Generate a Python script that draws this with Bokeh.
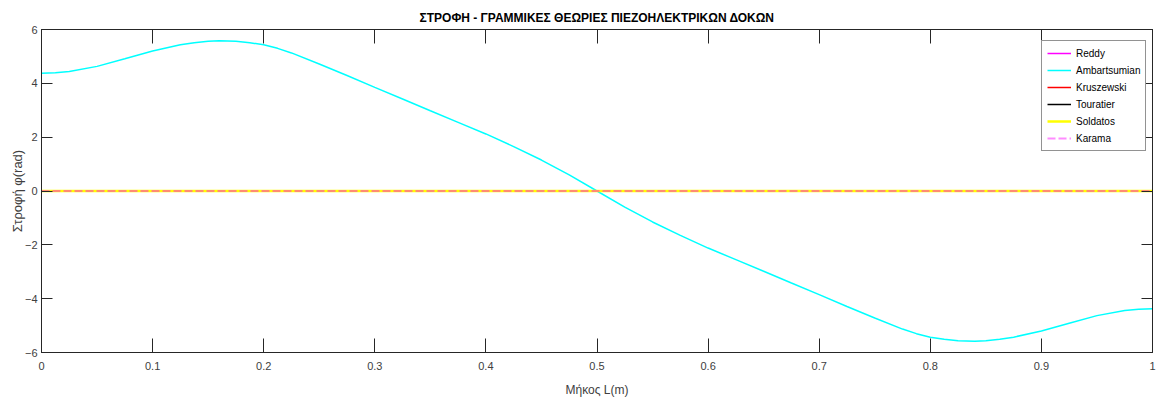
from bokeh.plotting import figure
from bokeh.models import LinearAxis, FixedTicker, Legend, LegendItem, Range1d
from bokeh.embed import file_html
from bokeh.resources import INLINE

# ---------------- data ----------------
x_amb = [0.0, 0.0125, 0.025, 0.05, 0.075, 0.1, 0.125, 0.1375, 0.15, 0.16, 0.175, 0.1875, 0.2,
         0.2125, 0.225, 0.25, 0.275, 0.3, 0.325, 0.35, 0.375, 0.4, 0.425, 0.45, 0.475, 0.5,
         0.525, 0.55, 0.575, 0.6, 0.625, 0.65, 0.675, 0.7, 0.725, 0.75, 0.775, 0.7875, 0.8,
         0.8125, 0.825, 0.84, 0.85, 0.8625, 0.875, 0.9, 0.925, 0.95, 0.975, 0.9875, 1.0]
ambartsumian = [4.37, 4.39, 4.44, 4.63, 4.91, 5.20, 5.43, 5.51, 5.56, 5.58, 5.56, 5.51, 5.43,
                5.30, 5.13, 4.72, 4.29, 3.85, 3.42, 2.98, 2.55, 2.12, 1.65, 1.15, 0.60, 0.00,
                -0.60, -1.15, -1.65, -2.12, -2.55, -2.98, -3.42, -3.85, -4.29, -4.72, -5.13, -5.30, -5.43,
                -5.51, -5.56, -5.58, -5.56, -5.51, -5.43, -5.20, -4.91, -4.63, -4.44, -4.39, -4.37]

x_other = [0.0, 0.1, 0.2, 0.3, 0.4, 0.5, 0.6, 0.7, 0.8, 0.9, 1.0]
reddy = [0.0, 0.0, 0.0, 0.0, 0.0, 0.0, 0.0, 0.0, 0.0, 0.0, 0.0]
kruszewski = [0.0, 0.0, 0.0, 0.0, 0.0, 0.0, 0.0, 0.0, 0.0, 0.0, 0.0]
touratier = [0.0, 0.0, 0.0, 0.0, 0.0, 0.0, 0.0, 0.0, 0.0, 0.0, 0.0]
soldatos = [0.0, 0.0, 0.0, 0.0, 0.0, 0.0, 0.0, 0.0, 0.0, 0.0, 0.0]
karama = [0.0, 0.0, 0.0, 0.0, 0.0, 0.0, 0.0, 0.0, 0.0, 0.0, 0.0]

x_ticks = [0, 0.1, 0.2, 0.3, 0.4, 0.5, 0.6, 0.7, 0.8, 0.9, 1]
y_ticks = [-6, -4, -2, 0, 2, 4, 6]

title_text = "ΣΤΡΟΦΗ - ΓΡΑΜΜΙΚΕΣ ΘΕΩΡΙΕΣ ΠΙΕΖΟΗΛΕΚΤΡΙΚΩΝ ΔΟΚΩΝ"
x_label = "Μήκος L(m)"
y_label = "Στροφή φ(rad)"

FONT = "Liberation Sans, Arial, sans-serif"
AX = "#262626"
LBL = "#404040"

p = figure(width=1159, height=399, output_backend="svg", toolbar_location=None,
           x_range=Range1d(0, 1), y_range=Range1d(-6, 6),
           min_border_left=41, min_border_right=7, min_border_top=29, min_border_bottom=46,
           background_fill_color="white", border_fill_color="white")

p.title.text = title_text
p.title.align = "center"
p.title.text_font = FONT
p.title.text_font_size = "12px"
p.title.text_font_style = "bold"
p.title.text_color = "black"

p.xgrid.visible = False
p.ygrid.visible = False
p.outline_line_color = AX
p.outline_line_width = 1


def style_axis(ax, ticks, tick_len, show_labels, label_size):
    ax.ticker = FixedTicker(ticks=ticks)
    ax.major_tick_in = tick_len
    ax.major_tick_out = 0
    ax.minor_tick_in = 0
    ax.minor_tick_out = 0
    ax.axis_line_color = AX
    ax.major_tick_line_color = AX
    ax.major_label_text_font = FONT
    ax.major_label_text_color = LBL
    ax.axis_label_text_font = FONT
    ax.axis_label_text_font_style = "normal"
    ax.axis_label_text_color = LBL
    ax.axis_label_text_font_size = label_size
    if show_labels:
        ax.major_label_text_font_size = "11px"
    else:
        ax.major_label_text_font_size = "0px"
        ax.major_label_standoff = 0


xa = p.xaxis[0]
style_axis(xa, x_ticks, 14, True, "12px")
xa.major_label_overrides = {0: "0", 1: "1"}
xa.axis_label = x_label
xa.major_label_standoff = 9
xa.axis_label_standoff = 10

ya = p.yaxis[0]
style_axis(ya, y_ticks, 11, True, "13px")
ya.axis_label = y_label
ya.major_label_standoff = 4
ya.axis_label_standoff = -3

top_ax = LinearAxis()
style_axis(top_ax, x_ticks, 14, False, "12px")
p.add_layout(top_ax, "above")

right_ax = LinearAxis()
style_axis(right_ax, y_ticks, 11, False, "12px")
p.add_layout(right_ax, "right")

r_tour = p.line(x_other, touratier, line_color="#000000", line_width=1.5)
r_reddy = p.line(x_other, reddy, line_color="#ff00ff", line_width=1.5)
r_krus = p.line(x_other, kruszewski, line_color="#ff0000", line_width=1.5)
r_amb = p.line(x_amb, ambartsumian, line_color="#00ffff", line_width=1.5)
r_sold = p.line(x_other, soldatos, line_color="#ffff00", line_width=2.5)
r_kara = p.line(x_other, karama, line_color="#ff00ff", line_width=2, line_dash="8 3", line_alpha=0.45)

legend = Legend(items=[
    LegendItem(label="Reddy", renderers=[r_reddy]),
    LegendItem(label="Ambartsumian", renderers=[r_amb]),
    LegendItem(label="Kruszewski", renderers=[r_krus]),
    LegendItem(label="Touratier", renderers=[r_tour]),
    LegendItem(label="Soldatos", renderers=[r_sold]),
    LegendItem(label="Karama", renderers=[r_kara]),
], location=(1000, 201))
legend.label_text_font = FONT
legend.label_text_font_size = "10px"
legend.label_text_color = "black"
legend.glyph_width = 24
legend.glyph_height = 14
legend.label_height = 14
legend.label_standoff = 5
legend.spacing = 3
legend.padding = 5
legend.margin = 0
legend.border_line_color = AX
legend.border_line_width = 1
legend.background_fill_color = "white"
legend.background_fill_alpha = 1
p.add_layout(legend)

open("out.html", "w").write(file_html(p, INLINE))
